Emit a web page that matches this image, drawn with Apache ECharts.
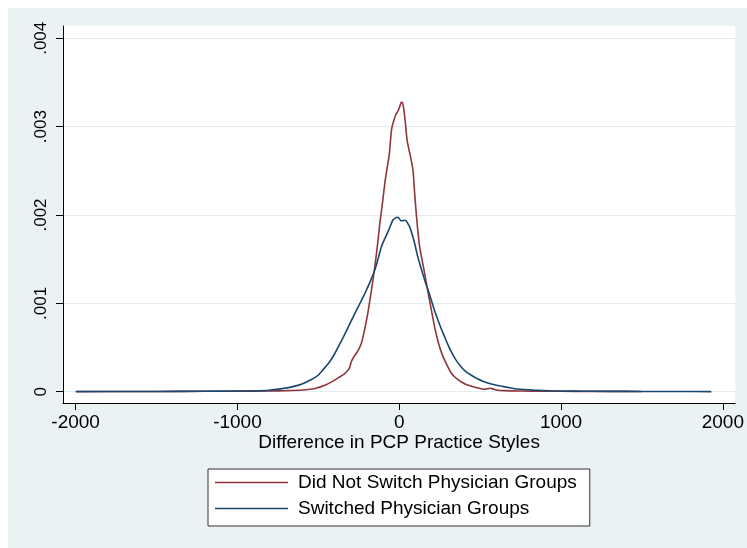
<!DOCTYPE html>
<html>
<head>
<meta charset="utf-8">
<script src="https://cdn.jsdelivr.net/npm/echarts@6/dist/echarts.min.js"></script>
<style>
html,body{margin:0;padding:0;background:#fff;}
#chart{width:747px;height:548px;}
</style>
</head>
<body>
<div id="chart"></div>
<script>
// ---- data ----
const xTicks = [-2000, -1000, 0, 1000, 2000];
const yTicks = [0, 0.001, 0.002, 0.003, 0.004];
const xTitle = 'Difference in PCP Practice Styles';
const seriesNames = ['Did Not Switch Physician Groups', 'Switched Physician Groups'];

const notSwitchX = [-1990, -1500, -1200, -1000, -800, -700, -600, -520, -460, -410, -370, -335, -310, -294, -275, -253, -232, -212, -195, -181, -166, -151, -135, -120, -104, -89, -75, -62, -48, -35, -20, -7, 4, 12, 20, 28, 38, 48, 60, 74, 85, 95, 105, 116, 126, 140, 157, 172, 187, 203, 218, 234, 249, 270, 290, 320, 350, 382, 410, 443, 480, 525, 566, 600, 650, 750, 900, 1100, 1300, 1498];
const notSwitchY = [0.000002, 0.000003, 0.000005, 0.000006, 0.000008, 0.000012, 0.000020, 0.000037, 0.000072, 0.000120, 0.000165, 0.000208, 0.000260, 0.000350, 0.000410, 0.000470, 0.000560, 0.000720, 0.000880, 0.001040, 0.001220, 0.001415, 0.001650, 0.001906, 0.002130, 0.002360, 0.002530, 0.002680, 0.002960, 0.003060, 0.003140, 0.003180, 0.003230, 0.003275, 0.003270, 0.003200, 0.003040, 0.002850, 0.002740, 0.002620, 0.002509, 0.002250, 0.002019, 0.001800, 0.001641, 0.001500, 0.001340, 0.001180, 0.001038, 0.000880, 0.000736, 0.000610, 0.000509, 0.000400, 0.000321, 0.000215, 0.000155, 0.000113, 0.000085, 0.000064, 0.000045, 0.000027, 0.000038, 0.000020, 0.000012, 0.000008, 0.000005, 0.000004, 0.000004, 0.000003];

const switchedX = [-2000, -1500, -1200, -1000, -900, -806, -703, -650, -601, -540, -499, -470, -437, -405, -376, -345, -314, -284, -253, -232, -212, -181, -151, -130, -110, -90, -69, -54, -39, -25, -12, 0, 9, 20, 32, 44, 54, 64, 80, 95, 110, 126, 141, 157, 178, 198, 218, 239, 260, 280, 300, 321, 350, 382, 410, 443, 480, 525, 575, 627, 680, 730, 830, 935, 1100, 1300, 1500, 1700, 1929];
const switchedY = [0.000001, 0.000002, 0.000005, 0.000007, 0.000009, 0.000016, 0.000040, 0.000060, 0.000087, 0.000140, 0.000189, 0.000250, 0.000321, 0.000410, 0.000509, 0.000620, 0.000736, 0.000850, 0.000962, 0.001040, 0.001114, 0.001240, 0.001377, 0.001510, 0.001641, 0.001730, 0.001811, 0.001880, 0.001943, 0.001965, 0.001974, 0.001960, 0.001936, 0.001935, 0.001940, 0.001932, 0.001900, 0.001868, 0.001780, 0.001680, 0.001560, 0.001453, 0.001360, 0.001264, 0.001150, 0.001038, 0.000920, 0.000812, 0.000710, 0.000623, 0.000535, 0.000453, 0.000360, 0.000283, 0.000230, 0.000189, 0.000150, 0.000113, 0.000085, 0.000064, 0.000045, 0.000030, 0.000018, 0.000011, 0.000006, 0.000004, 0.000003, 0.000002, 0.000001];

// ---- chart ----
const FONT = '"Liberation Sans", Arial, Helvetica, sans-serif';
const zip = (xs, ys) => xs.map((x, i) => [x, ys[i]]);
const yFmt = v => v === 0 ? '0' : String(Number(v.toFixed(3))).replace(/^0\./, '.');
const xFmt = v => String(Math.round(v));

const chart = echarts.init(document.getElementById('chart'), null, {renderer: 'canvas'});
chart.setOption({
  animation: false,
  backgroundColor: '#ffffff',
  graphic: [{
    type: 'rect', left: 8, top: 8, z: -10,
    shape: {width: 739, height: 540},
    style: {fill: '#EAF2F3'}
  }],
  grid: {
    left: 63, top: 26, right: 8, bottom: 145,
    show: true, backgroundColor: '#ffffff', borderWidth: 0,
    containLabel: false
  },
  xAxis: {
    type: 'value', min: -2078, max: 2076,
    axisLine: {show: true, onZero: false, lineStyle: {color: '#000', width: 1}},
    axisTick: {show: true, length: 7, customValues: xTicks, lineStyle: {color: '#000', width: 1}},
    axisLabel: {customValues: xTicks, margin: 10, fontSize: 19, color: '#000', fontFamily: FONT, formatter: xFmt},
    splitLine: {show: false},
    name: xTitle, nameLocation: 'middle', nameGap: 30, nameMoveOverlap: false,
    nameTextStyle: {fontSize: 19, color: '#000', fontFamily: FONT}
  },
  yAxis: {
    type: 'value', min: -0.000128, max: 0.004139,
    axisLine: {show: true, onZero: false, lineStyle: {color: '#000', width: 1}},
    axisTick: {show: true, length: 7, customValues: yTicks, lineStyle: {color: '#000', width: 1}},
    axisLabel: {customValues: yTicks, rotate: 90, margin: 13, fontSize: 17, color: '#000', fontFamily: FONT, formatter: yFmt},
    splitLine: {show: true, lineStyle: {color: '#E3ECEF', width: 1}}
  },
  legend: {
    orient: 'vertical', left: 208, top: 469,
    padding: [4, 13, 8, 7],
    icon: 'rect',
    itemWidth: 73, itemHeight: 1.6, itemGap: 7,
    borderColor: '#333', borderWidth: 1, backgroundColor: '#ffffff',
    textStyle: {fontSize: 19, color: '#000', fontFamily: FONT, padding: [0, 0, 0, 5]},
    data: seriesNames
  },
  series: [
    {
      name: seriesNames[0], type: 'line', data: zip(notSwitchX, notSwitchY),
      showSymbol: false, symbol: 'none', smooth: 0.2,
      lineStyle: {color: '#90353B', width: 1.6}, itemStyle: {color: '#90353B'}
    },
    {
      name: seriesNames[1], type: 'line', data: zip(switchedX, switchedY),
      showSymbol: false, symbol: 'none', smooth: 0.2,
      lineStyle: {color: '#1A476F', width: 1.6}, itemStyle: {color: '#1A476F'}
    }
  ]
});
</script>
</body>
</html>
